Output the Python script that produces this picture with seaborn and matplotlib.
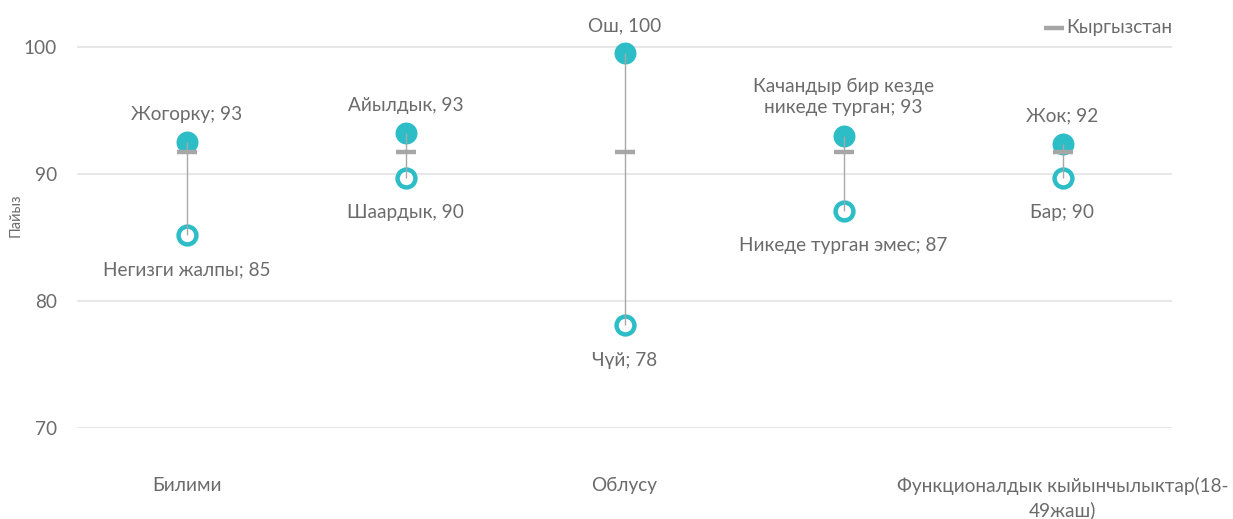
import pandas as pd
import numpy as np
import matplotlib
matplotlib.use("Agg")
import matplotlib.pyplot as plt
import seaborn as sns

# data
positions = [0, 1, 2, 3, 4]
high_values = [92.5, 93.2, 99.5, 93.0, 92.4]
low_values = [85.2, 89.7, 78.1, 87.1, 89.7]
kg_values = [91.7, 91.7, 91.7, 91.7, 91.7]
high_labels = ["Жогорку; 93", "Айылдык, 93", "Ош, 100",
               "Качандыр бир кезде\nникеде турган; 93", "Жок; 92"]
low_labels = ["Негизги жалпы; 85", "Шаардык, 90", "Чүй; 78",
              "Никеде турган эмес; 87", "Бар; 90"]
tick_pos = [0, 2, 4]
tick_labels = ["Билими", "Облусу", "Функционалдык кыйынчылыктар(18-\n49жаш)"]

TEAL = "#2cbdc6"
GREY_TXT = "#6b6b6b"
FS = 13.7

sns.set_theme(style="white")
plt.rcParams["font.family"] = ["Lato", "DejaVu Sans"]

df = pd.DataFrame({"pos": positions, "high": high_values,
                   "low": low_values, "kg": kg_values})

fig = plt.figure(figsize=(12.33, 5.19), dpi=100)
ax = fig.add_axes([77 / 1233, 1 - 428 / 519, 1095 / 1233, (428 - 21.6) / 519])

# gridlines
for v in [70, 80, 90, 100]:
    ax.axhline(v, color="#e3e3e3", lw=1.2, zorder=0)

# high and low markers
sns.scatterplot(data=df, x="pos", y="high", ax=ax, color=TEAL, s=250,
                edgecolor=TEAL, linewidth=0, zorder=3, legend=False)
sns.scatterplot(data=df, x="pos", y="low", ax=ax, color="white", s=165,
                edgecolor=TEAL, linewidth=3.2, zorder=3, legend=False)

# connecting lines
ax.vlines(df["pos"], df["low"], df["high"], color="#a8a8a8", lw=1.0, zorder=4)

# Kyrgyzstan average dash
sns.scatterplot(data=df, x="pos", y="kg", ax=ax, marker="_", s=220,
                color="#a6a6a6", linewidth=3.2, zorder=5, label="Кыргызстан")

# data labels
for x, y, t in zip(positions, high_values, high_labels):
    ax.annotate(t, (x, y), xytext=(0, 14), textcoords="offset points",
                ha="center", va="bottom", fontsize=FS, color=GREY_TXT,
                linespacing=1.3)
for x, y, t in zip(positions, low_values, low_labels):
    ax.annotate(t, (x, y), xytext=(0, -19), textcoords="offset points",
                ha="center", va="top", fontsize=FS, color=GREY_TXT)

ax.set_xlim(-0.5, 4.5)
ax.set_ylim(70, 102)
ax.set_yticks([70, 80, 90, 100])
ax.set_xticks(tick_pos)
ax.set_xticklabels(tick_labels, fontsize=FS, color=GREY_TXT, linespacing=1.45)
ax.tick_params(axis="x", length=0, pad=35)
ax.tick_params(axis="y", length=0, pad=14.5, labelsize=FS, labelcolor=GREY_TXT)
ax.set_xlabel("")
ax.set_ylabel("")
fig.text(16 / 1233, 1 - 215 / 519, "Пайыз", rotation=90, fontsize=10.5,
         color=GREY_TXT, ha="center", va="center")
for s in ax.spines.values():
    s.set_visible(False)

ax.legend(loc="center right", bbox_to_anchor=(1.0, 1 - (27 - 21.6) / (428 - 21.6)),
          frameon=False, fontsize=FS, labelcolor=GREY_TXT, handlelength=0.6,
          handletextpad=0.3, borderaxespad=0, borderpad=0)

fig.savefig("out.png", dpi=100)
